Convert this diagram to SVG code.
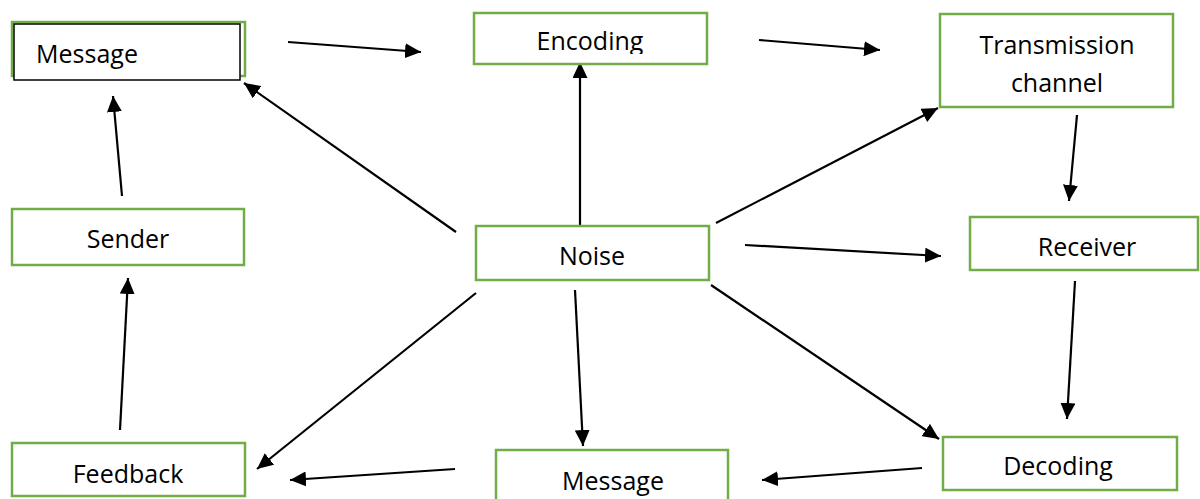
<svg xmlns="http://www.w3.org/2000/svg" width="1200" height="499" viewBox="0 0 1200 499">
  <style>
    .box { fill: #ffffff; stroke: #70AD47; stroke-width: 2.5; }
    .box2 { fill: #ffffff; stroke: #000000; stroke-width: 1.5; }
    .lbl { font-family: "Open Sans", "Liberation Sans", sans-serif; font-size: 25px; fill: #000000; text-anchor: middle; }
    .edge { stroke: #000000; stroke-width: 2.2; fill: none; marker-end: url(#head); }
  </style>
  <defs>
    <marker id="head" markerUnits="userSpaceOnUse" markerWidth="17" markerHeight="15" refX="16" refY="7.5" orient="auto">
      <path d="M0,0 L16,7.5 L0,15 z" fill="#000000"/>
    </marker>
    <clipPath id="encClip"><rect x="474" y="13" width="233" height="41"/></clipPath>
  </defs>

  <rect width="1200" height="499" fill="#ffffff"/>

  <g id="connectors">
    <line class="edge" x1="288" y1="42" x2="421" y2="52"/>
    <line class="edge" x1="759" y1="40" x2="880" y2="50"/>
    <line class="edge" x1="1077" y1="115" x2="1069" y2="201"/>
    <line class="edge" x1="1075" y1="281" x2="1067" y2="419"/>
    <line class="edge" x1="922" y1="468" x2="762" y2="480"/>
    <line class="edge" x1="455" y1="469" x2="290" y2="480"/>
    <line class="edge" x1="120" y1="430" x2="128" y2="278"/>
    <line class="edge" x1="122" y1="196" x2="113" y2="96"/>
    <line class="edge" x1="456" y1="232" x2="244" y2="83"/>
    <line class="edge" x1="580" y1="230" x2="580" y2="62"/>
    <line class="edge" x1="716" y1="223" x2="938" y2="108"/>
    <line class="edge" x1="745" y1="245" x2="941" y2="256"/>
    <line class="edge" x1="711" y1="285" x2="939" y2="439"/>
    <line class="edge" x1="575" y1="290" x2="583" y2="446"/>
    <line class="edge" x1="476" y1="293" x2="257" y2="469"/>
  </g>

  <g id="message-top">
    <rect class="box" x="12" y="22" width="233" height="54"/>
    <rect class="box2" x="14" y="24" width="226" height="56"/>
    <text class="lbl" x="87" y="63">Message</text>
  </g>

  <g id="encoding">
    <rect class="box" x="474" y="13" width="233" height="51"/>
    <text class="lbl" x="590" y="50" clip-path="url(#encClip)">Encoding</text>
  </g>

  <g id="transmission">
    <rect class="box" x="940" y="14" width="233" height="93"/>
    <text class="lbl" x="1057" y="54">Transmission</text>
    <text class="lbl" x="1057" y="92">channel</text>
  </g>

  <g id="sender">
    <rect class="box" x="12" y="209" width="232" height="56"/>
    <text class="lbl" x="128" y="248">Sender</text>
  </g>

  <g id="noise">
    <rect class="box" x="476" y="226" width="233" height="54"/>
    <text class="lbl" x="592" y="265">Noise</text>
  </g>

  <g id="receiver">
    <rect class="box" x="970" y="217" width="228" height="53"/>
    <text class="lbl" x="1087" y="256">Receiver</text>
  </g>

  <g id="feedback">
    <rect class="box" x="12" y="443" width="233" height="53"/>
    <text class="lbl" x="128" y="483">Feedback</text>
  </g>

  <g id="message-bottom">
    <rect class="box" x="496" y="450" width="232" height="60"/>
    <text class="lbl" x="613" y="490">Message</text>
  </g>

  <g id="decoding">
    <rect class="box" x="943" y="437" width="234" height="53"/>
    <text class="lbl" x="1058" y="475">Decoding</text>
  </g>
</svg>
